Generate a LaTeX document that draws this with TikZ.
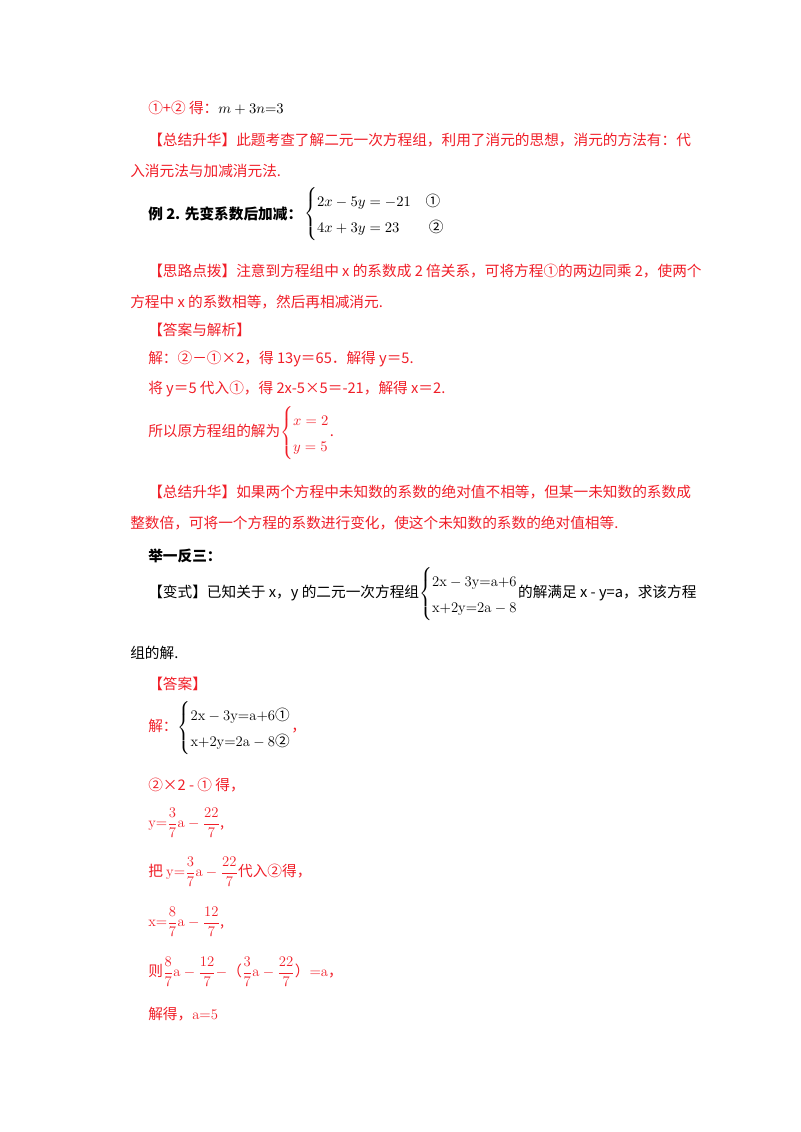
\documentclass[tikz,border=0pt]{standalone}
\usepackage{fontspec}
\usepackage{amsmath}
\newfontfamily\cjk{Noto Sans CJK SC}
\usetikzlibrary{positioning}
\definecolor{hlred}{RGB}{240,30,40}
\newcommand{\eqsys}[1]{\left\{\renewcommand{\arraystretch}{1.5}\begin{array}{@{}l@{}}#1\end{array}\right.}
\tikzset{%
  line/.style={%
    anchor=west,
    inner sep=0pt,
    font=\cjk\fontsize{11}{13}\selectfont
  },
  rline/.style={%
    line,
    text=hlred
  },
  bline/.style={%
    line,
    font=\cjk\bfseries\fontsize{11}{13}\selectfont
  }
}

\begin{document}
\begin{tikzpicture}[x=0.75pt,y=-0.75pt]
    \useasboundingbox (0,0) rectangle (800,1132);
    \node[rline] (l1) at (148,108) {①+② 得：\textcolor{black}{$m+3n{=}3$}};

    \node[rline] (s1) at (148,140) {【总结升华】此题考查了解二元一次方程组，利用了消元的思想，消元的方法有：代};
    \node[rline] (s2) at (130,171) {入消元法与加减消元法.};

    \node[bline] (ex) at (148,214) {例 2. 先变系数后加减：};
    \node[line,right=1pt of ex] (sys) {$\eqsys{2x-5y=-21\quad\text{\cjk ①}\\ 4x+3y=23\qquad\text{\cjk ②}}$};

    \node[rline] (h1) at (148,271) {【思路点拨】注意到方程组中 x 的系数成 2 倍关系，可将方程①的两边同乘 2，使两个};
    \node[rline] (h2) at (130,302) {方程中 x 的系数相等，然后再相减消元.};

    \node[rline] (an) at (148,330) {【答案与解析】};
    \node[rline] (a1) at (148,359) {解：②－①×2，得 13y＝65．解得 y＝5.};
    \node[rline] (a2) at (148,389) {将 y＝5 代入①，得 2x-5×5＝-21，解得 x＝2.};
    \node[rline] (a3) at (148,433) {所以原方程组的解为$\eqsys{x=2\\ y=5}$.};

    \node[rline] (t1) at (148,492) {【总结升华】如果两个方程中未知数的系数的绝对值不相等，但某一未知数的系数成};
    \node[rline] (t2) at (130,523) {整数倍，可将一个方程的系数进行变化，使这个未知数的系数的绝对值相等.};

    \node[bline] (jf) at (148,556) {举一反三：};

    \node[line] (v1) at (148,594) {【变式】已知关于 x，y 的二元一次方程组$\eqsys{\mathrm{2x-3y{=}a{+}6}\\ \mathrm{x{+}2y{=}2a-8}}$的解满足 x - y=a，求该方程};
    \node[line] (v2) at (130,653) {组的解.};

    \node[rline] (da) at (148,684) {【答案】};
    \node[rline] (d1) at (148,728) {解：\textcolor{black}{$\eqsys{\mathrm{2x-3y{=}a{+}6}\text{\cjk ①}\\ \mathrm{x{+}2y{=}2a-8}\text{\cjk ②}}$}，};
    \node[rline] (d2) at (148,785) {②×2 - ① 得，};
    \node[rline] (d3) at (148,823) {$\mathrm{y{=}\dfrac{3}{7}a-\dfrac{22}{7}}$,};
    \node[rline] (d4) at (148,872) {把 $\mathrm{y{=}\dfrac{3}{7}a-\dfrac{22}{7}}$代入②得，};
    \node[rline] (d5) at (148,922) {$\mathrm{x{=}\dfrac{8}{7}a-\dfrac{12}{7}}$,};
    \node[rline] (d6) at (148,972) {则$\mathrm{\dfrac{8}{7}a-\dfrac{12}{7}-}$（$\mathrm{\dfrac{3}{7}a-\dfrac{22}{7}}$）$\mathrm{{=}a}$，};
    \node[rline] (d7) at (148,1014) {解得，$\mathrm{a{=}5}$};
  \end{tikzpicture}
\end{document}
